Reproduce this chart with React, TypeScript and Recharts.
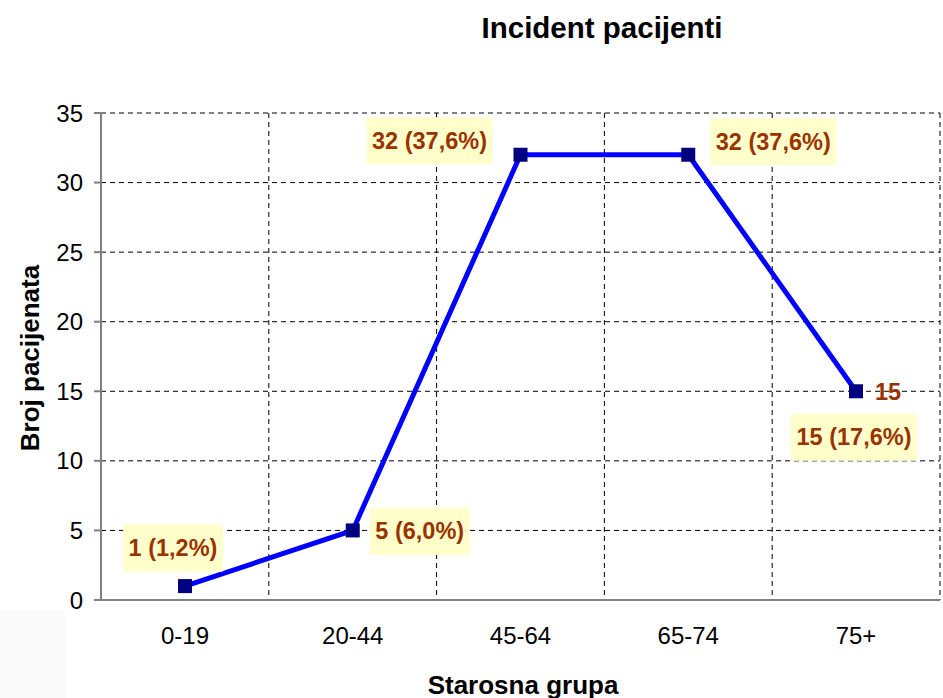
import { CartesianGrid, LabelList, Line, LineChart, ReferenceLine, XAxis, YAxis } from "recharts";

const categories = ["0-19", "20-44", "45-64", "65-74", "75+"];
const patients = [1, 5, 32, 32, 15];
const percents = ["1,2%", "6,0%", "37,6%", "37,6%", "17,6%"];
const extraLabels = ["", "", "", "", "15"];
const yTicks = [0, 5, 10, 15, 20, 25, 30, 35];
const slotTicks = [0, 1, 2, 3, 4, 5];

const data = categories.map((group, i) => ({
  group,
  slot: i + 0.5,
  value: patients[i],
  label: `${patients[i]} (${percents[i]})`,
  extra: extraLabels[i],
}));

// where each boxed label sits relative to its point
const placement = [
  { dx: -12, dy: -38 },
  { dx: 67, dy: 1 },
  { dx: -91, dy: -14 },
  { dx: 85, dy: -13 },
  { dx: -2, dy: 46 },
];

const FONT = "Arial, 'Liberation Sans', sans-serif";
const LABEL_SIZE = 23.5;
const LABEL_COLOR = "#993300";
const AXIS_GRAY = "#808080";

const charW: Record<string, number> = { " ": 0.278, "(": 0.333, ")": 0.333, ",": 0.278, "%": 0.889 };
const textWidth = (s: string, size: number) =>
  s.split("").reduce((w, c) => w + (charW[c] ?? 0.556), 0) * size;

const BoxLabel = (props: any) => {
  const { x, y, index, value } = props;
  const p = placement[index];
  const cx = x + p.dx;
  const cy = y + p.dy;
  const w = textWidth(String(value), LABEL_SIZE) + 11;
  const h = 47;
  return (
    <g>
      <rect x={cx - w / 2} y={cy - h / 2} width={w} height={h} fill="#FFFFCC" />
      <text
        x={cx}
        y={cy}
        textAnchor="middle"
        dominantBaseline="central"
        fontFamily={FONT}
        fontWeight="bold"
        fontSize={LABEL_SIZE}
        fill={LABEL_COLOR}
      >
        {value}
      </text>
    </g>
  );
};

const ExtraLabel = (props: any) => {
  const { x, y, value } = props;
  if (!value) return null;
  return (
    <text
      x={x + 19}
      y={y + 1}
      dominantBaseline="central"
      fontFamily={FONT}
      fontWeight="bold"
      fontSize={LABEL_SIZE}
      fill={LABEL_COLOR}
    >
      {value}
    </text>
  );
};

const SquareDot = (props: any) => {
  const { cx, cy } = props;
  if (cx == null || cy == null) return null;
  return <rect x={cx - 7} y={cy - 7} width={14} height={14} fill="#000080" />;
};

export default function App() {
  return (
    <div
      style={{
        position: "absolute",
        left: 0,
        top: 0,
        width: 943,
        height: 698,
        background: "#fff",
        fontFamily: FONT,
      }}
    >
      <div
        style={{
          position: "absolute",
          left: 0,
          top: 610,
          width: 65,
          height: 88,
          background: "#FAFAFA",
        }}
      />
      <div
        style={{
          position: "absolute",
          left: 602,
          top: 28,
          transform: "translate(-50%, -50%)",
          fontSize: 29.5,
          fontWeight: "bold",
          whiteSpace: "nowrap",
        }}
      >
        Incident pacijenti
      </div>
      <div
        style={{
          position: "absolute",
          left: 30,
          top: 358,
          transform: "translate(-50%, -50%) rotate(-90deg)",
          fontSize: 26,
          fontWeight: "bold",
          whiteSpace: "nowrap",
        }}
      >
        Broj pacijenata
      </div>
      <div
        style={{
          position: "absolute",
          left: 523,
          top: 685,
          transform: "translate(-50%, -50%)",
          fontSize: 26,
          fontWeight: "bold",
          whiteSpace: "nowrap",
        }}
      >
        Starosna grupa
      </div>
      <LineChart
        width={943}
        height={698}
        data={data}
        margin={{ top: 113, right: 3, left: 0, bottom: 0 }}
        style={{ position: "absolute", left: 0, top: 0 }}
      >
        <CartesianGrid
          xAxisId="slots"
          stroke="#000"
          strokeDasharray="5 4"
          strokeWidth={1}
        />
        <XAxis
          xAxisId="slots"
          dataKey="slot"
          type="number"
          domain={[0, 5]}
          ticks={slotTicks}
          height={0}
          tickFormatter={() => ""}
          tickSize={7}
          tickLine={{ stroke: AXIS_GRAY, strokeWidth: 2 }}
          axisLine={false}
        />
        <XAxis
          dataKey="group"
          height={98}
          padding={{ left: 84, right: 84 }}
          axisLine={false}
          tickLine={false}
          tickMargin={21}
          tick={{ fill: "#000", fontSize: 24, fontFamily: FONT }}
        />
        <YAxis
          width={101}
          domain={[0, 35]}
          ticks={yTicks}
          tickSize={7}
          tickMargin={11}
          tickLine={{ stroke: AXIS_GRAY, strokeWidth: 2 }}
          axisLine={false}
          tick={{ fill: "#000", fontSize: 24, fontFamily: FONT }}
        />
        <ReferenceLine y={0} stroke={AXIS_GRAY} strokeWidth={2} />
        <ReferenceLine xAxisId="slots" x={0} stroke={AXIS_GRAY} strokeWidth={2} />
        <Line
          type="linear"
          dataKey="value"
          stroke="#0000FF"
          strokeWidth={5}
          dot={<SquareDot />}
          activeDot={false}
          isAnimationActive={false}
        >
          <LabelList dataKey="label" content={<BoxLabel />} />
          <LabelList dataKey="extra" content={<ExtraLabel />} />
        </Line>
      </LineChart>
    </div>
  );
}
